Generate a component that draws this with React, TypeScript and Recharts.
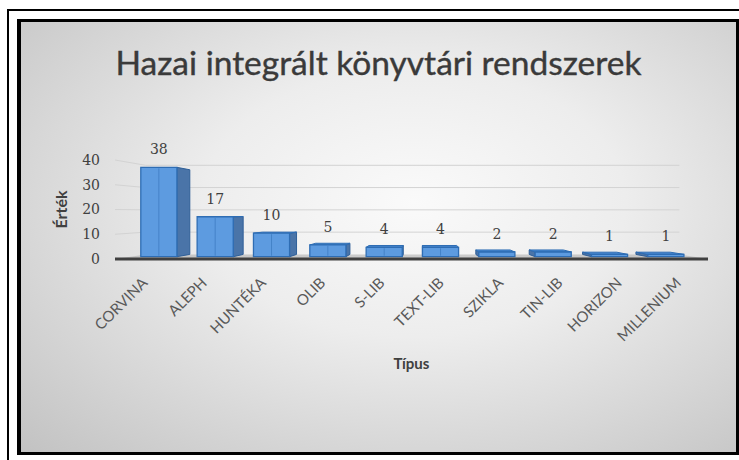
import { BarChart, Bar, XAxis, YAxis, CartesianGrid, LabelList } from "recharts"

const categories = ["CORVINA", "ALEPH", "HUNTÉKA", "OLIB", "S-LIB", "TEXT-LIB", "SZIKLA", "TIN-LIB", "HORIZON", "MILLENIUM"]
const counts = [38, 17, 10, 5, 4, 4, 2, 2, 1, 1]
const yTicks = [0, 10, 20, 30, 40]

const data = categories.map((name, i) => ({ name, value: counts[i] }))

// one-point perspective used to fake the 3D look of the original
const VX = 422
const VY = 213
const T_FRONT = 0.05
const T_BACK = 0.1

const proj = (x: number, y: number, t: number) => [VX + (x - VX) * (1 - t), VY + (y - VY) * (1 - t)]
const pts = (arr: number[][]) => arr.map((p) => p.join(",")).join(" ")

const gridLine = (props: any) => {
  const { x1, x2, y1, index } = props
  const [bx1, by] = proj(x1, y1, T_BACK)
  const [bx2] = proj(x2, y1, T_BACK)
  if (y1 > 257) {
    return (
      <polygon
        key={"floor-" + index}
        points={pts([[x1, y1], [x2, y1], [bx2, by], [bx1, by]])}
        fill="#a9a9a9"
        fillOpacity={0.55}
      />
    )
  }
  return <path key={"grid-" + index} d={`M${x1},${y1}L${bx1},${by}L${bx2},${by}`} stroke="#d3d3d3" strokeWidth={1} fill="none" />
}

const Box3D = (props: any) => {
  const { x, y, width, height } = props
  if (!height || height <= 0) return null
  const x2 = x + width
  const y2 = y + height
  const fA = proj(x, y, T_FRONT)
  const fB = proj(x2, y, T_FRONT)
  const fC = proj(x2, y2, T_FRONT)
  const fD = proj(x, y2, T_FRONT)
  const bA = proj(x, y, T_BACK)
  const bB = proj(x2, y, T_BACK)
  const bC = proj(x2, y2, T_BACK)
  const bD = proj(x, y2, T_BACK)
  const m1 = proj(x + width / 2, y, T_FRONT)
  const m2 = proj(x + width / 2, y2, T_FRONT)
  return (
    <g>
      {x2 < VX && <polygon points={pts([fB, bB, bC, fC])} fill="#4a74a8" stroke="#2f5f98" strokeWidth={1} />}
      {x > VX && <polygon points={pts([fA, bA, bD, fD])} fill="#4a74a8" stroke="#2f5f98" strokeWidth={1} />}
      {y > VY && <polygon points={pts([fA, fB, bB, bA])} fill="#4a8ad2" stroke="#2e6db4" strokeWidth={1} />}
      <polygon points={pts([fA, fB, fC, fD])} fill="#5d9be0" stroke="#2e6db4" strokeWidth={1.3} />
      {height > 8 && <line x1={m1[0]} y1={m1[1] + 1} x2={m2[0]} y2={m2[1] - 1} stroke="#4583c8" strokeWidth={1} />}
    </g>
  )
}

const valueLabel = (props: any) => {
  const { x, y, width, value } = props
  const [cx, cy] = proj(Number(x) + Number(width) / 2, Number(y), T_FRONT)
  return (
    <text x={cx} y={cy - 13} textAnchor="middle" fontFamily="DejaVu Serif" fontSize={14} fill="#404040">
      {value}
    </text>
  )
}

const CategoryTick = (props: any) => {
  const { x, y, payload } = props
  return (
    <text
      transform={`translate(${x - 4},${y + 9}) rotate(-45)`}
      textAnchor="end"
      dy={11}
      fontFamily="Lato"
      fontSize={15}
      fill="#595959"
    >
      {payload.value}
    </text>
  )
}

const yLabel = (props: any) => {
  const { viewBox } = props
  const cx = viewBox.x + 22
  const cy = viewBox.y + viewBox.height / 2
  return (
    <text
      transform={`translate(${cx},${cy}) rotate(-90)`}
      textAnchor="middle"
      dy={5}
      fontFamily="Lato"
      fontWeight="bold"
      fontSize={16}
      fill="#404040"
    >
      Érték
    </text>
  )
}

export default function App() {
  return (
    <div style={{ position: "absolute", left: 0, top: 0, width: 739, height: 460, background: "#fff", overflow: "hidden" }}>
      <div style={{ position: "absolute", left: 7, top: 9, width: 732, height: 2, background: "#000" }} />
      <div style={{ position: "absolute", left: 7, top: 9, width: 2, height: 451, background: "#000" }} />
      <div
        style={{
          position: "absolute",
          left: 17,
          top: 19,
          width: 722,
          height: 436,
          boxSizing: "border-box",
          borderStyle: "solid",
          borderColor: "#000",
          borderWidth: "3px 3px 3px 4px",
          background: "radial-gradient(ellipse farthest-corner at 55% 42%, #fafafa 0%, #ededed 38%, #c2c2c2 100%)",
        }}
      />
      <div
        style={{
          position: "absolute",
          left: 9,
          top: 41,
          width: 739,
          textAlign: "center",
          fontFamily: "Lato",
          fontSize: 33.5,
          lineHeight: "42px",
          color: "#3a3a3a",
          WebkitTextStroke: "0.4px #3a3a3a",
        }}
      >
        Hazai integrált könyvtári rendszerek
      </div>
      <div style={{ position: "absolute", left: 0, top: 0 }}>
        <BarChart width={739} height={460} data={data} margin={{ top: 160, right: 31, left: 40, bottom: 81 }}>
          <CartesianGrid vertical={false} horizontal={gridLine} />
          <XAxis
            dataKey="name"
            height={120}
            interval={0}
            tickLine={false}
            axisLine={{ stroke: "#404040", strokeWidth: 3 }}
            tick={<CategoryTick />}
            label={{
              value: "Típus",
              position: "insideBottom",
              offset: 10,
              style: { fontFamily: "Lato", fontWeight: "bold", fontSize: 15, fill: "#404040" },
            }}
          />
          <YAxis
            width={75}
            domain={[0, 40]}
            ticks={yTicks}
            axisLine={false}
            tickLine={false}
            tickMargin={9}
            tick={{ fontFamily: "DejaVu Serif", fontSize: 14, fill: "#404040" }}
            label={{ content: yLabel }}
          />
          <Bar dataKey="value" barSize={38} shape={<Box3D />} isAnimationActive={false}>
            <LabelList dataKey="value" content={valueLabel} />
          </Bar>
        </BarChart>
      </div>
    </div>
  )
}
